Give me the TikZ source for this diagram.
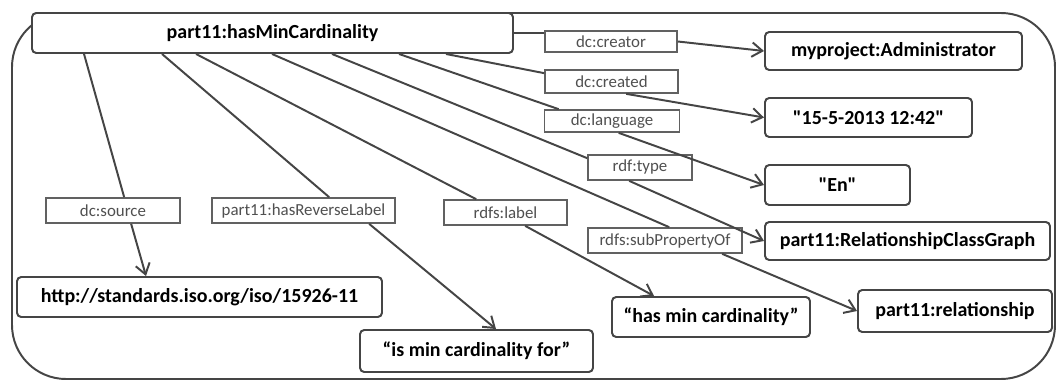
\documentclass[tikz,border=0pt]{standalone}
\usepackage{fontspec}
\setmainfont{Carlito}[Ligatures=TeXOff]
\usetikzlibrary{calc,arrows.meta}
\definecolor{traco}{HTML}{454545}
\definecolor{rotulo}{HTML}{505050}
\tikzset{
  recurso/.style={draw=traco,line width=1.4pt,rounded corners=3pt,fill=white,
    font=\fontsize{14.2}{16}\selectfont\bfseries,inner sep=0pt},
  propriedade/.style={draw=traco!85,line width=1.2pt,fill=white,
    font=\fontsize{12}{14}\selectfont,text=rotulo,inner sep=0pt},
  ligacao/.style={traco,line width=1.4pt},
  seta/.style={ligacao,-{Straight Barb[length=2.6mm,width=3.6mm]}}
}
% estilo, nome, centro, largura, altura, texto (em pixels)
\newcommand{\caixa}[6]{\node[#1,minimum width=#4*0.025cm,minimum height=#5*0.025cm] (#2) at (#3) {#6};}

\begin{document}
\begin{tikzpicture}[x=0.025cm,y=-0.025cm]
  \useasboundingbox (0,0) rectangle (1058,381);
  \draw[ligacao,rounded corners=1.35cm] (12,13) rectangle (1055,379);
  \caixa{recurso}{main}{272.5,33}{481}{40}{part11:hasMinCardinality}
  \caixa{recurso}{admin}{893.5,51}{257}{38}{myproject:Administrator}
  \caixa{recurso}{date}{868.5,117.5}{207}{39}{"15-5-2013 12:42"}
  \caixa{recurso}{en}{837.5,185}{145}{40}{"En"}
  \caixa{recurso}{rcg}{907.5,241}{285}{38}{part11:RelationshipClassGraph}
  \caixa{recurso}{rel}{955,311}{194}{42}{part11:relationship}
  \caixa{recurso}{hmc}{711,317}{198}{40}{“has min cardinality”}
  \caixa{recurso}{imc}{476.5,351}{233}{42}{“is min cardinality for”}
  \caixa{recurso}{src}{199.5,297}{365}{40}{http://standards.iso.org/iso/15926-11}
  \caixa{propriedade}{lcreator}{611,41.5}{132}{21}{dc:creator}
  \caixa{propriedade}{lcreated}{611.5,81.5}{133}{23}{dc:created}
  \caixa{propriedade}{llanguage}{612,121}{135}{22}{dc:language}
  \caixa{propriedade}{ltype}{640,167.5}{104}{25}{rdf:type}
  \caixa{propriedade}{lsubprop}{665,240.5}{154}{25}{rdfs:subPropertyOf}
  \caixa{propriedade}{llabel}{505.5,212.5}{123}{25}{rdfs:label}
  \caixa{propriedade}{lrevlabel}{303.5,210.5}{183}{25}{part11:hasReverseLabel}
  \caixa{propriedade}{lsource}{113,210.5}{134}{25}{dc:source}
  % da propriedade principal ate os rotulos
  \draw[ligacao] (main.east) -- (main.east -| lcreator.west);
  \draw[ligacao] ($(main.south west)+(415,0)$) -- ($(lcreated.north west)+(0,4)$);
  \draw[ligacao] ($(main.south west)+(368,0)$) -- ($(llanguage.north west)+(15,0)$);
  \draw[ligacao] ($(main.south west)+(301,0)$) -- ($(ltype.north west)+(0,4)$);
  \draw[ligacao] ($(main.south west)+(241,0)$) -- ($(lsubprop.north west)+(82,0)$);
  \draw[ligacao] ($(main.south west)+(165,0)$) -- ($(llabel.north west)+(33,0)$);
  \draw[ligacao] ($(main.south west)+(131,0)$) -- ($(lrevlabel.north west)+(118,0)$);
  \draw[ligacao] ($(main.south west)+(53,0)$) -- ($(lsource.north west)+(79,0)$);
  % dos rotulos ate os valores
  \draw[seta] (lcreator.east) -- (admin.west);
  \draw[seta] ($(lcreated.south west)+(82,0)$) -- (date.west);
  \draw[seta] ($(llanguage.south west)+(75,0)$) -- (en.west);
  \draw[seta] ($(ltype.south west)+(42,0)$) -- (rcg.west);
  \draw[seta] ($(lsubprop.south west)+(135,0)$) -- (rel.west);
  \draw[seta] ($(llabel.south west)+(82,0)$) -- ($(hmc.north west)+(43,0)$);
  \draw[seta] ($(lrevlabel.south west)+(158,0)$) -- ($(imc.north west)+(137,0)$);
  \draw[seta] ($(lsource.south west)+(86,0)$) -- ($(src.north west)+(130,0)$);
\end{tikzpicture}
\end{document}
